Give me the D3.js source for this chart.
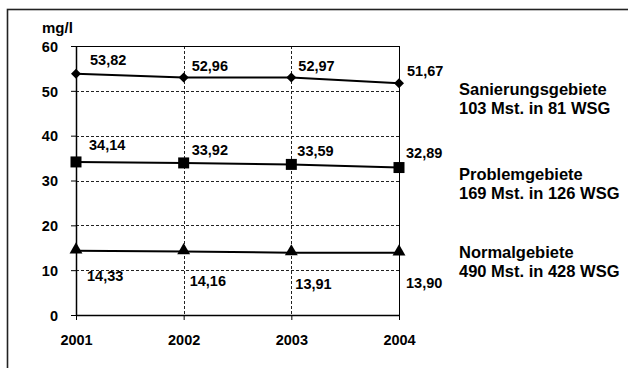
<!DOCTYPE html>
<html><head><meta charset="utf-8">
<script src="https://cdn.jsdelivr.net/npm/d3@7"></script>
<style>body{margin:0;background:#fff}svg{display:block}text{font-family:"Liberation Sans",Arial,sans-serif;font-weight:bold;fill:#000}</style>
</head><body><svg id="c" width="628" height="368"></svg>
<script>
const years = ["2001", "2002", "2003", "2004"];
const yTicks = [0, 10, 20, 30, 40, 50, 60];
const seriesNames = ["Sanierungsgebiete", "Problemgebiete", "Normalgebiete"];
const seriesSub = ["103 Mst. in 81 WSG", "169 Mst. in 126 WSG", "490 Mst. in 428 WSG"];
const sanierung = [53.82, 52.96, 52.97, 51.67];
const problem = [34.14, 33.92, 33.59, 32.89];
const normal = [14.33, 14.16, 13.91, 13.90];
const markers = ["diamond", "square", "triangle"];
// label offsets (style): [dx, dy] relative to point
const labelOffsets = [
  [[14,-9],[8,-7],[7,-6.5],[8,-7]],
  [[13,-12],[8,-8],[6,-8.5],[7,-9.5]],
  [[11,30],[6,34.5],[4,36],[7,35.5]]
];

const series = [sanierung, problem, normal];
const svg = d3.select("#c");
const L = 76, R = 399, T = 46, B = 315;
const x = d3.scalePoint().domain(years).range([L, R]).padding(0);
const y = d3.scaleLinear().domain([0, 60]).range([B, T]);
const fmt = v => d3.format(".2f")(v).replace(".", ",");

// outer frame
svg.append("rect").attr("x", 7.5).attr("y", 9.5).attr("width", 640).attr("height", 380)
  .attr("fill", "none").attr("stroke", "#222").attr("stroke-width", 1.6);

// grid
const g = svg.append("g");
g.selectAll(".hg").data(yTicks.filter(t => t > 0 && t < 60)).join("line")
  .attr("x1", L).attr("x2", R).attr("y1", d => Math.round(y(d)) + 0.5).attr("y2", d => Math.round(y(d)) + 0.5)
  .attr("stroke", "#222").attr("stroke-width", 1).attr("stroke-dasharray", "3,2");
g.selectAll(".vg").data(years.slice(1, -1)).join("line")
  .attr("x1", d => Math.round(x(d)) + 0.5).attr("x2", d => Math.round(x(d)) + 0.5).attr("y1", T).attr("y2", B)
  .attr("stroke", "#222").attr("stroke-width", 1).attr("stroke-dasharray", "3,2");
// top and right solid
svg.append("line").attr("x1", L).attr("x2", R).attr("y1", T + 0.5).attr("y2", T + 0.5).attr("stroke", "#000").attr("stroke-width", 1);
svg.append("line").attr("x1", R + 0.5).attr("x2", R + 0.5).attr("y1", T).attr("y2", B).attr("stroke", "#000").attr("stroke-width", 1);

// axes
const ya = svg.append("g").attr("transform", `translate(${L},0)`)
  .call(d3.axisLeft(y).tickValues(yTicks).tickSize(5).tickPadding(13).tickSizeOuter(0));
ya.select(".domain").attr("stroke", "#000").attr("stroke-width", 1.5);
ya.selectAll("text").style("font-size", "14.5px").style("font-family", "Liberation Sans, Arial, sans-serif").style("font-weight", "bold").attr("dy", "0.36em");
const xa = svg.append("g").attr("transform", `translate(0,${B})`)
  .call(d3.axisBottom(x).tickSize(5).tickPadding(15).tickSizeOuter(0));
xa.select(".domain").attr("stroke", "#000").attr("stroke-width", 1.5);
xa.selectAll("line").attr("stroke", "#000");
xa.selectAll("text").style("font-size", "14.5px").style("font-family", "Liberation Sans, Arial, sans-serif").style("font-weight", "bold");

svg.append("text").attr("x", 42).attr("y", 33).style("font-size", "15px").text("mg/l");

// lines & markers
const line = d3.line().x((d, i) => x(years[i])).y(d => y(d));
const symType = {diamond: d3.symbolDiamond2, square: d3.symbolSquare, triangle: d3.symbolTriangle};
const symSize = {diamond: 64, square: 121, triangle: 72};
series.forEach((s, si) => {
  svg.append("path").datum(s).attr("d", line).attr("fill", "none").attr("stroke", "#000").attr("stroke-width", 2);
  svg.selectAll(".m" + si).data(s).join("path")
    .attr("transform", (d, i) => `translate(${x(years[i])},${y(d) + (markers[si] === "triangle" ? -1 : 0)})`)
    .attr("d", d3.symbol().type(symType[markers[si]]).size(symSize[markers[si]]))
    .attr("fill", "#000");
  svg.selectAll(".l" + si).data(s).join("text")
    .attr("x", (d, i) => x(years[i]) + labelOffsets[si][i][0])
    .attr("y", (d, i) => y(d) + labelOffsets[si][i][1])
    .style("font-size", "14.5px").text(d => fmt(d));
});

// legend text
const legY = [95, 180, 258];
seriesNames.forEach((n, i) => {
  const t = svg.append("text").attr("x", 459).attr("y", legY[i]).style("font-size", "16.5px");
  t.append("tspan").attr("x", 459).text(n);
  t.append("tspan").attr("x", 459).attr("dy", 18.5).text(seriesSub[i]);
});
</script></body></html>
